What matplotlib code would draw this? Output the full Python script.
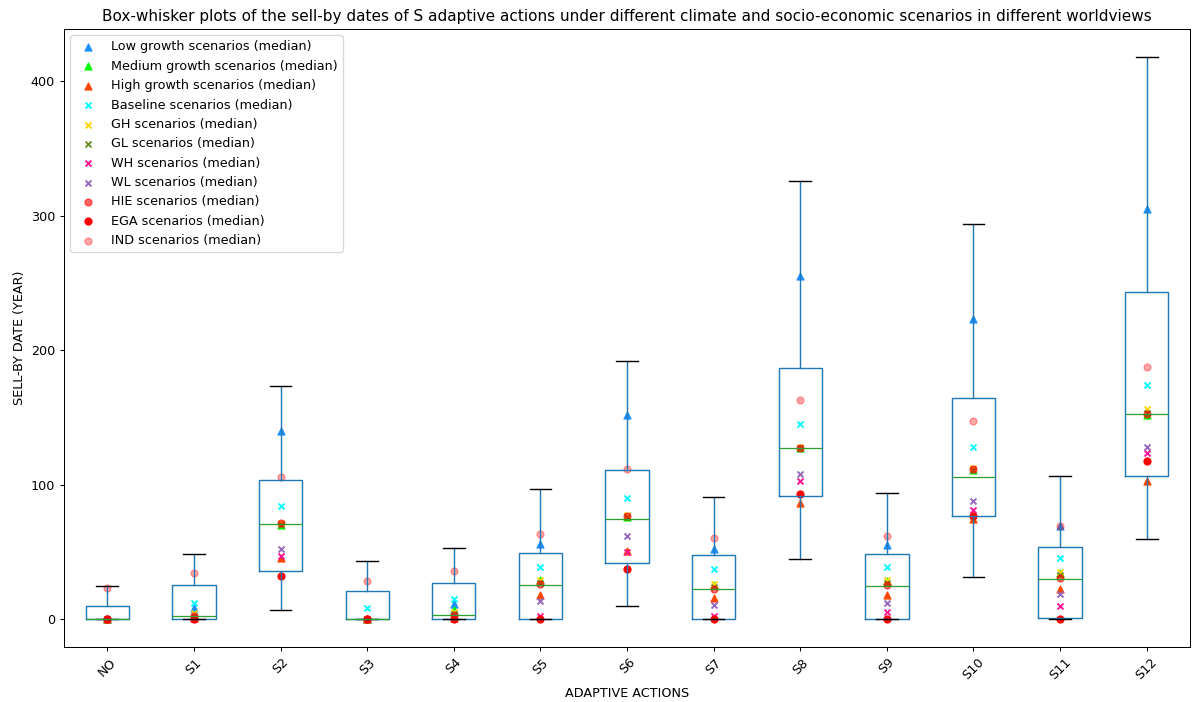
import matplotlib
matplotlib.use("Agg")
import matplotlib.pyplot as plt

# Adaptive actions (x categories)
actions = ["NO", "S1", "S2", "S3", "S4", "S5", "S6", "S7", "S8", "S9", "S10", "S11", "S12"]

# Box statistics of sell-by dates (years) across all scenarios
whisker_low = [0, 0, 6.7, 0, 0, 0, 9.4, 0, 44.5, 0, 31.3, 0, 59.4]
quartile_1 = [0, 0, 35.8, 0, 0, 0, 41.7, 0, 91.7, 0, 76.3, 0.5, 106.6]
medians = [0, 2.0, 70.7, 0, 3.0, 25.3, 74.5, 21.9, 127.4, 24.6, 105.8, 29.6, 152.5]
quartile_3 = [9.5, 25.6, 103.6, 21, 26.6, 49, 111, 47.2, 186.5, 48, 164, 53.7, 243]
whisker_high = [24.8, 48.2, 173.4, 43, 53, 96.4, 192, 90.7, 326, 94, 294, 106.6, 418]

# Medians per scenario group
low_growth = [0, 8, 140, 0, 11, 56, 151.5, 51.7, 255, 55, 222.8, 69, 304.8]
medium_growth = [0, 3, 70, 0, 6.7, 29, 76, 25, 127, 28, 111, 33.8, 152]
high_growth = [0, 1, 45, 0, 1, 18, 50.7, 15.9, 86, 17.9, 74.3, 22.6, 102.8]
baseline = [0, 12.2, 84, 8.4, 14.7, 38.7, 89.7, 36.8, 145.3, 38.7, 128, 45.5, 174.4]
gh = [0, 4.7, 71, 0, 5, 29, 77, 26, 128, 29, 112, 35, 156]
gl = [0, 2, 70, 0, 4, 27, 76, 24, 127, 27, 111, 33, 153]
wh = [0, 0, 47, 0, 0, 2.2, 50, 2.2, 102.8, 4.8, 81.2, 9.7, 123.5]
wl = [0, 1, 52, 0, 2, 13.4, 61.4, 10.4, 107.8, 12.2, 87.7, 18.4, 127.7]
hie = [0, 2, 71, 0, 3, 26, 76.7, 22.6, 127.4, 25, 111.5, 30.8, 152.5]
ega = [0, 0, 32, 0, 0, 0, 37, 0, 92.6, 0, 76.7, 0, 117.7]
ind = [23, 34, 105.4, 28, 36, 63, 111.5, 60.4, 163, 62, 147, 69, 187.5]

DPI = 91.5
W, H = 1192, 702
fig = plt.figure(figsize=(W / DPI, H / DPI), dpi=DPI)
ax = fig.add_axes([64 / W, 55 / H, 1126 / W, 618 / H])

positions = list(range(1, len(actions) + 1))
stats = [
    dict(label=a, whislo=lo, q1=q1, med=m, q3=q3, whishi=hi, fliers=[])
    for a, lo, q1, m, q3, hi in zip(actions, whisker_low, quartile_1, medians,
                                     quartile_3, whisker_high)
]
ax.bxp(stats, positions=positions, widths=0.5, showfliers=False,
       boxprops=dict(color="#1f77b4", linewidth=1.1),
       whiskerprops=dict(color="#1f77b4", linewidth=1.1),
       capprops=dict(color="k", linewidth=1.1),
       medianprops=dict(color="#2ca02c", linewidth=1.0))

groups = [
    (low_growth, "^", "dodgerblue", 1.0, "Low growth scenarios (median)"),
    (medium_growth, "^", "lime", 1.0, "Medium growth scenarios (median)"),
    (high_growth, "^", "orangered", 1.0, "High growth scenarios (median)"),
    (baseline, "x", "cyan", 1.0, "Baseline scenarios (median)"),
    (gh, "x", "gold", 1.0, "GH scenarios (median)"),
    (gl, "x", "olivedrab", 1.0, "GL scenarios (median)"),
    (wh, "x", "deeppink", 1.0, "WH scenarios (median)"),
    (wl, "x", "tab:purple", 1.0, "WL scenarios (median)"),
    (hie, "o", "red", 0.6, "HIE scenarios (median)"),
    (ega, "o", "red", 1.0, "EGA scenarios (median)"),
    (ind, "o", "red", 0.35, "IND scenarios (median)"),
]
for values, marker, color, alpha, label in groups:
    ax.scatter(positions, values, marker=marker, color=color, alpha=alpha,
               s=22 if marker == "x" else 30, label=label)

ax.set_xlim(0.5, len(actions) + 0.5)
ax.set_xticks(positions)
ax.set_xticklabels(actions, rotation=45)
ax.set_xlabel("ADAPTIVE ACTIONS")
ax.set_ylabel("SELL-BY DATE (YEAR)")
ax.set_title("Box-whisker plots of the sell-by dates of S adaptive actions under different "
             "climate and socio-economic scenarios in different worldviews", fontsize=12)
ax.legend(loc="upper left", scatterpoints=1)

fig.savefig("out.png", dpi=DPI)
